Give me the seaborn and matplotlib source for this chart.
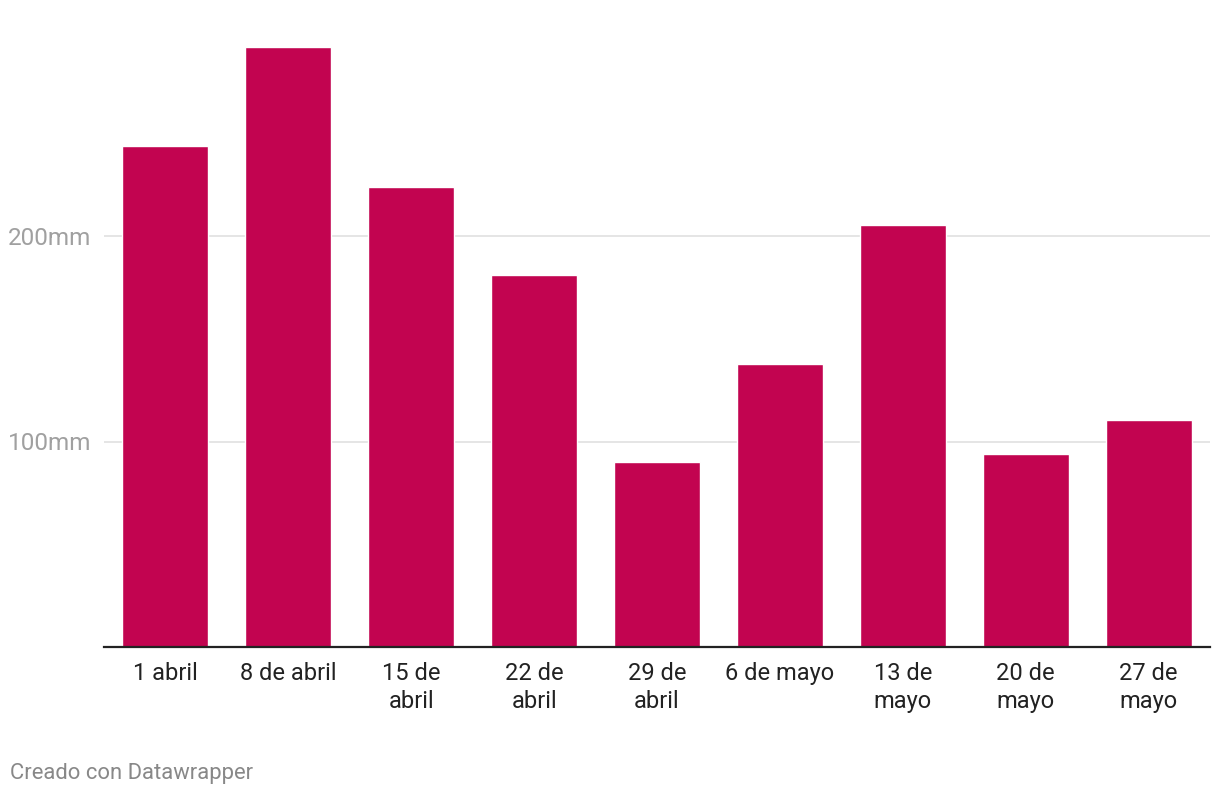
import matplotlib
matplotlib.use("Agg")
import matplotlib.pyplot as plt
import seaborn as sns
import pandas as pd

categories = ["1 abril", "8 de abril", "15 de\nabril", "22 de\nabril", "29 de\nabril",
              "6 de mayo", "13 de\nmayo", "20 de\nmayo", "27 de\nmayo"]
values = [243.8, 292.0, 223.9, 181.0, 90.0, 137.7, 205.4, 93.9, 110.5]
yticks = [100, 200]
ytick_labels = ["100mm", "200mm"]

sns.set_theme(style="white")
plt.rcParams['font.family'] = ['Roboto', 'DejaVu Sans']

df = pd.DataFrame({"cat": categories, "val": values})

fig = plt.figure(figsize=(12.2, 7.96), dpi=100)
ax = fig.add_axes([104/1220, (796-647)/796, (1210-104)/1220, (647-30.5)/796])

sns.barplot(data=df, x="cat", y="val", color="#C20450", width=0.7,
            saturation=1, ax=ax, zorder=3)

ax.set_xlim(-0.5, len(categories) - 0.5)
ax.set_ylim(0, 300)
ax.set_yticks(yticks)
ax.set_yticklabels(ytick_labels)
ax.yaxis.grid(True, color="#e0e0e0", linewidth=1.2, zorder=0)
ax.set_xlabel("")
ax.set_ylabel("")
for s in ["top", "right", "left"]:
    ax.spines[s].set_visible(False)
ax.spines["bottom"].set_color("#222222")
ax.spines["bottom"].set_linewidth(1.6)
ax.spines["bottom"].set_zorder(4)
ax.tick_params(axis="x", length=0, pad=11, labelsize=17, labelcolor="#222222")
ax.tick_params(axis="y", length=0, pad=9, labelsize=17.5, labelcolor="#a0a0a0")
for lbl in ax.get_xticklabels():
    lbl.set_linespacing(1.25)

fig.text(10/1220, 1 - 773/796, "Creado con Datawrapper", color="#888888",
         fontsize=15.8, va="center", ha="left")

fig.savefig("out.png", dpi=100, facecolor="white")
